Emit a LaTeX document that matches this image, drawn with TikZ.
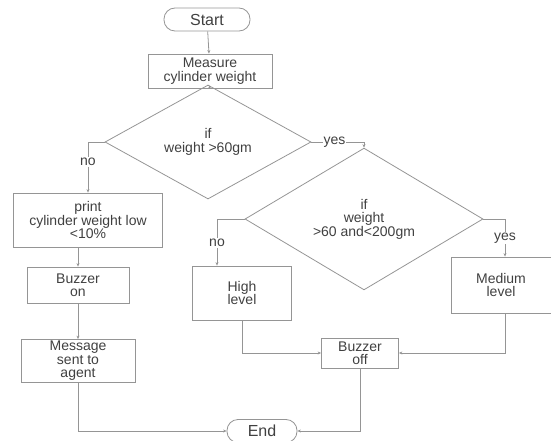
\documentclass[tikz,border=0pt]{standalone}
\usepackage{fontspec}
\setmainfont{Liberation Sans}
\usetikzlibrary{shapes.geometric, arrows.meta}

\definecolor{linegray}{HTML}{959595}
\definecolor{textgray}{HTML}{404040}

\begin{document}
\begin{tikzpicture}[
    x=1pt, y=-1pt,
    box/.style={rectangle, draw=linegray, line width=0.8pt, align=center, text=textgray, inner sep=1pt, font=\fontsize{14}{13.4}\selectfont},
    term/.style={box, rounded corners=11pt, font=\fontsize{16}{16}\selectfont},
    decision/.style={diamond, draw=linegray, line width=0.8pt, align=center, text=textgray, inner sep=0pt, font=\fontsize{14}{13.4}\selectfont},
    arrow/.style={-{Stealth[length=3.5pt, width=3pt]}, draw=linegray, line width=0.8pt},
    lbl/.style={fill=white, text=textgray, inner sep=1pt, font=\fontsize{14}{13.4}\selectfont}
]
\useasboundingbox (0,0) rectangle (551,441);

% Nodes
\node[term, minimum width=86, minimum height=23] (start) at (207,19.5) {Start};
\node[box, minimum width=124, minimum height=34] (measure) at (210,71) {Measure\\cylinder weight};
\node[decision, minimum width=206, minimum height=68] (check1) at (208,142) {if\\weight >60gm};

% low branch
\node[box, minimum width=149, minimum height=54] (print) at (88,220) {print\\cylinder weight low\\<10\%};
\node[box, minimum width=102, minimum height=36] (buzzon) at (78,285) {Buzzer\\on};
\node[box, minimum width=114, minimum height=43] (message) at (78,361) {Message\\sent to\\agent};

% level branch
\node[decision, minimum width=238, minimum height=88] (check2) at (364,219) {if\\weight\\>60 and<200gm};
\node[box, minimum width=99, minimum height=54] (high) at (242,293) {High\\level};
\node[box, minimum width=100, minimum height=56] (medium) at (501,285) {Medium\\level};
\node[box, minimum width=77, minimum height=30] (buzzoff) at (360,353) {Buzzer\\off};

\node[term, minimum width=70, minimum height=23] (end) at (262,431) {End};

% Arrows
\draw[arrow] (start) -- (measure);
\draw[arrow] (measure) -- (check1);
\draw[arrow] (check1.west) -| node[lbl, pos=0.7] {no} (print.north);
\draw[arrow] (check1.east) -| node[lbl, pos=0.22] {yes} (check2.north);
\draw[arrow] (print.south -| buzzon) -- (buzzon);
\draw[arrow] (buzzon) -- (message);
\draw[arrow] (check2.west) -| node[lbl, pos=0.76] {no} ([xshift=-25pt]high.north);
\draw[arrow] (check2.east) -| node[lbl, pos=0.75] {yes} ([xshift=4pt]medium.north);
\draw[arrow] (high.south) |- (buzzoff.west);
\draw[arrow] ([xshift=4pt]medium.south) |- (buzzoff.east);
\draw[arrow] (buzzoff.south) |- (end.east);
\draw[arrow] (message.south) |- (end.west);

\end{tikzpicture}
\end{document}
